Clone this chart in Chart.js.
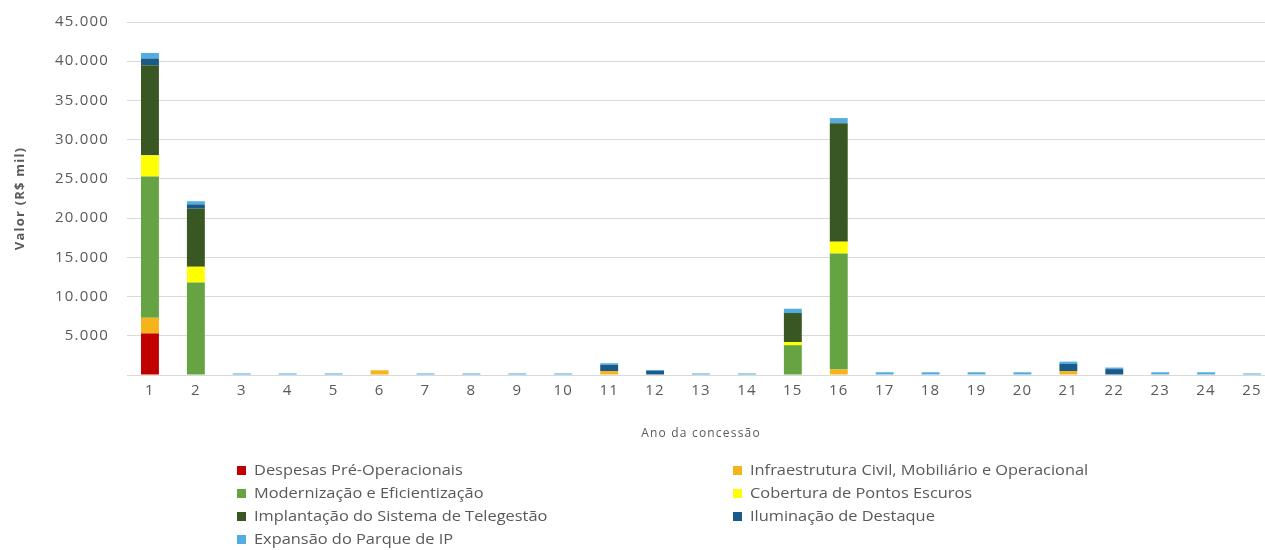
<!DOCTYPE html>
<html>
<head>
<meta charset="utf-8">
<script src="https://cdn.jsdelivr.net/npm/chart.js@4/dist/chart.umd.min.js"></script>
<style>
  html, body { margin: 0; padding: 0; background: #fff; overflow: hidden; width: 1265px; height: 550px; }
  #wrap { position: absolute; left: 0; top: 0; width: 1276px; height: 450px; }
  #legend { position: absolute; left: 0; top: 0; width: 1265px; height: 550px; pointer-events: none;
            font-family: 'Open Sans', sans-serif; font-size: 14px; color: #595959; }
  .item { position: absolute; white-space: nowrap; line-height: 18px; }
  .item i { display: inline-block; width: 9px; height: 9px; margin-right: 8px; }
  .item span { display: inline-block; transform: scaleX(1.17); transform-origin: 0 50%; }
</style>
</head>
<body>
<div id="wrap"><canvas id="chart"></canvas></div>
<div id="legend"></div>
<script>
const years = ['1','2','3','4','5','6','7','8','9','10','11','12','13','14','15','16','17','18','19','20','21','22','23','24','25'];

const seriesNames = [
  'Despesas Pré-Operacionais',
  'Infraestrutura Civil, Mobiliário e Operacional',
  'Modernização e Eficientização',
  'Cobertura de Pontos Escuros',
  'Implantação do Sistema de Telegestão',
  'Iluminação de Destaque',
  'Expansão do Parque de IP'
];
const seriesColors = ['#C00000', '#F4B41A', '#66A443', '#FFFF00', '#385723', '#1A5A8A', '#52ADE3'];

// valores em R$ mil, por ano da concessão
const despesas     = [5300, 0, 0, 0, 0, 0, 0, 0, 0, 0, 0, 0, 0, 0, 0, 0, 0, 0, 0, 0, 0, 0, 0, 0, 0];
const infra        = [2000, 0, 0, 0, 0, 600, 0, 0, 0, 0, 500, 0, 0, 0, 0, 700, 0, 0, 0, 0, 500, 0, 0, 0, 0];
const modernizacao = [18000, 11800, 0, 0, 0, 0, 0, 0, 0, 0, 0, 0, 0, 0, 3800, 14800, 0, 0, 0, 0, 0, 0, 0, 0, 0];
const cobertura    = [2700, 2000, 0, 0, 0, 0, 0, 0, 0, 0, 0, 0, 0, 0, 400, 1500, 0, 0, 0, 0, 0, 0, 0, 0, 0];
const telegestao   = [11500, 7400, 0, 0, 0, 0, 0, 0, 0, 0, 0, 0, 0, 0, 3700, 15100, 0, 0, 0, 0, 0, 0, 0, 0, 0];
const iluminacao   = [850, 550, 0, 0, 0, 0, 0, 0, 0, 0, 800, 550, 0, 0, 0, 0, 0, 0, 0, 0, 900, 750, 0, 0, 0];
const expansao     = [700, 400, 200, 200, 200, 0, 200, 200, 200, 200, 200, 100, 200, 200, 550, 650, 350, 350, 350, 350, 300, 200, 350, 350, 200];

const seriesValues = [despesas, infra, modernizacao, cobertura, telegestao, iluminacao, expansao];

const textColor = '#595959';
const gridColor = '#D9D9D9';

function fmt(v) {
  return String(v).replace(/\B(?=(\d{3})+(?!\d))/g, '.');
}

// o original tem o texto dos eixos um pouco mais largo
const wideText = {
  id: 'wideText',
  beforeDraw(chart) { chart.ctx.letterSpacing = '1.2px'; },
  beforeDatasetsDraw(chart) { chart.ctx.letterSpacing = '0px'; }
};

const ctx = document.getElementById('chart').getContext('2d');
new Chart(ctx, {
  type: 'bar',
  data: {
    labels: years,
    datasets: seriesNames.map((name, i) => ({
      label: name,
      data: seriesValues[i],
      backgroundColor: seriesColors[i],
      borderWidth: 0,
      barPercentage: 0.39,
      categoryPercentage: 1
    }))
  },
  options: {
    responsive: true,
    maintainAspectRatio: false,
    animation: false,
    layout: { padding: { top: 22, right: 1, bottom: 0, left: 0 } },
    plugins: {
      legend: { display: false },
      tooltip: { enabled: false }
    },
    scales: {
      x: {
        stacked: true,
        grid: { display: false, drawTicks: false },
        border: { color: gridColor },
        ticks: { color: textColor, padding: 7, font: { family: 'Open Sans', size: 15 } },
        title: {
          display: true,
          text: 'Ano da concessão',
          color: textColor,
          padding: { top: 0, bottom: 9 },
          font: { family: 'Open Sans', size: 12 }
        },
        afterFit: s => { s.height = 75; }
      },
      y: {
        stacked: true,
        min: 0,
        max: 45000,
        grid: { color: gridColor, drawTicks: false },
        border: { display: false },
        ticks: {
          stepSize: 5000,
          padding: 18,
          color: textColor,
          font: { family: 'Open Sans', size: 15 },
          callback: v => v === 0 ? '' : fmt(v)
        },
        title: {
          display: true,
          text: 'Valor (R$ mil)',
          color: textColor,
          padding: { top: 12, bottom: 0 },
          font: { family: 'Open Sans', size: 13, weight: 'bold' }
        },
        afterFit: s => { s.width = 127; s.paddingTop = 0; s.paddingBottom = 0; }
      }
    }
  },
  plugins: [wideText]
});

// legenda em duas colunas, como no original
const legendPos = [
  [237, 461], [733, 461],
  [237, 484], [733, 484],
  [237, 507], [733, 507],
  [237, 530]
];
const legend = document.getElementById('legend');
seriesNames.forEach((name, i) => {
  const el = document.createElement('div');
  el.className = 'item';
  el.style.left = legendPos[i][0] + 'px';
  el.style.top = legendPos[i][1] + 'px';
  el.innerHTML = '<i style="background:' + seriesColors[i] + '"></i><span>' + name + '</span>';
  legend.appendChild(el);
});
</script>
</body>
</html>
